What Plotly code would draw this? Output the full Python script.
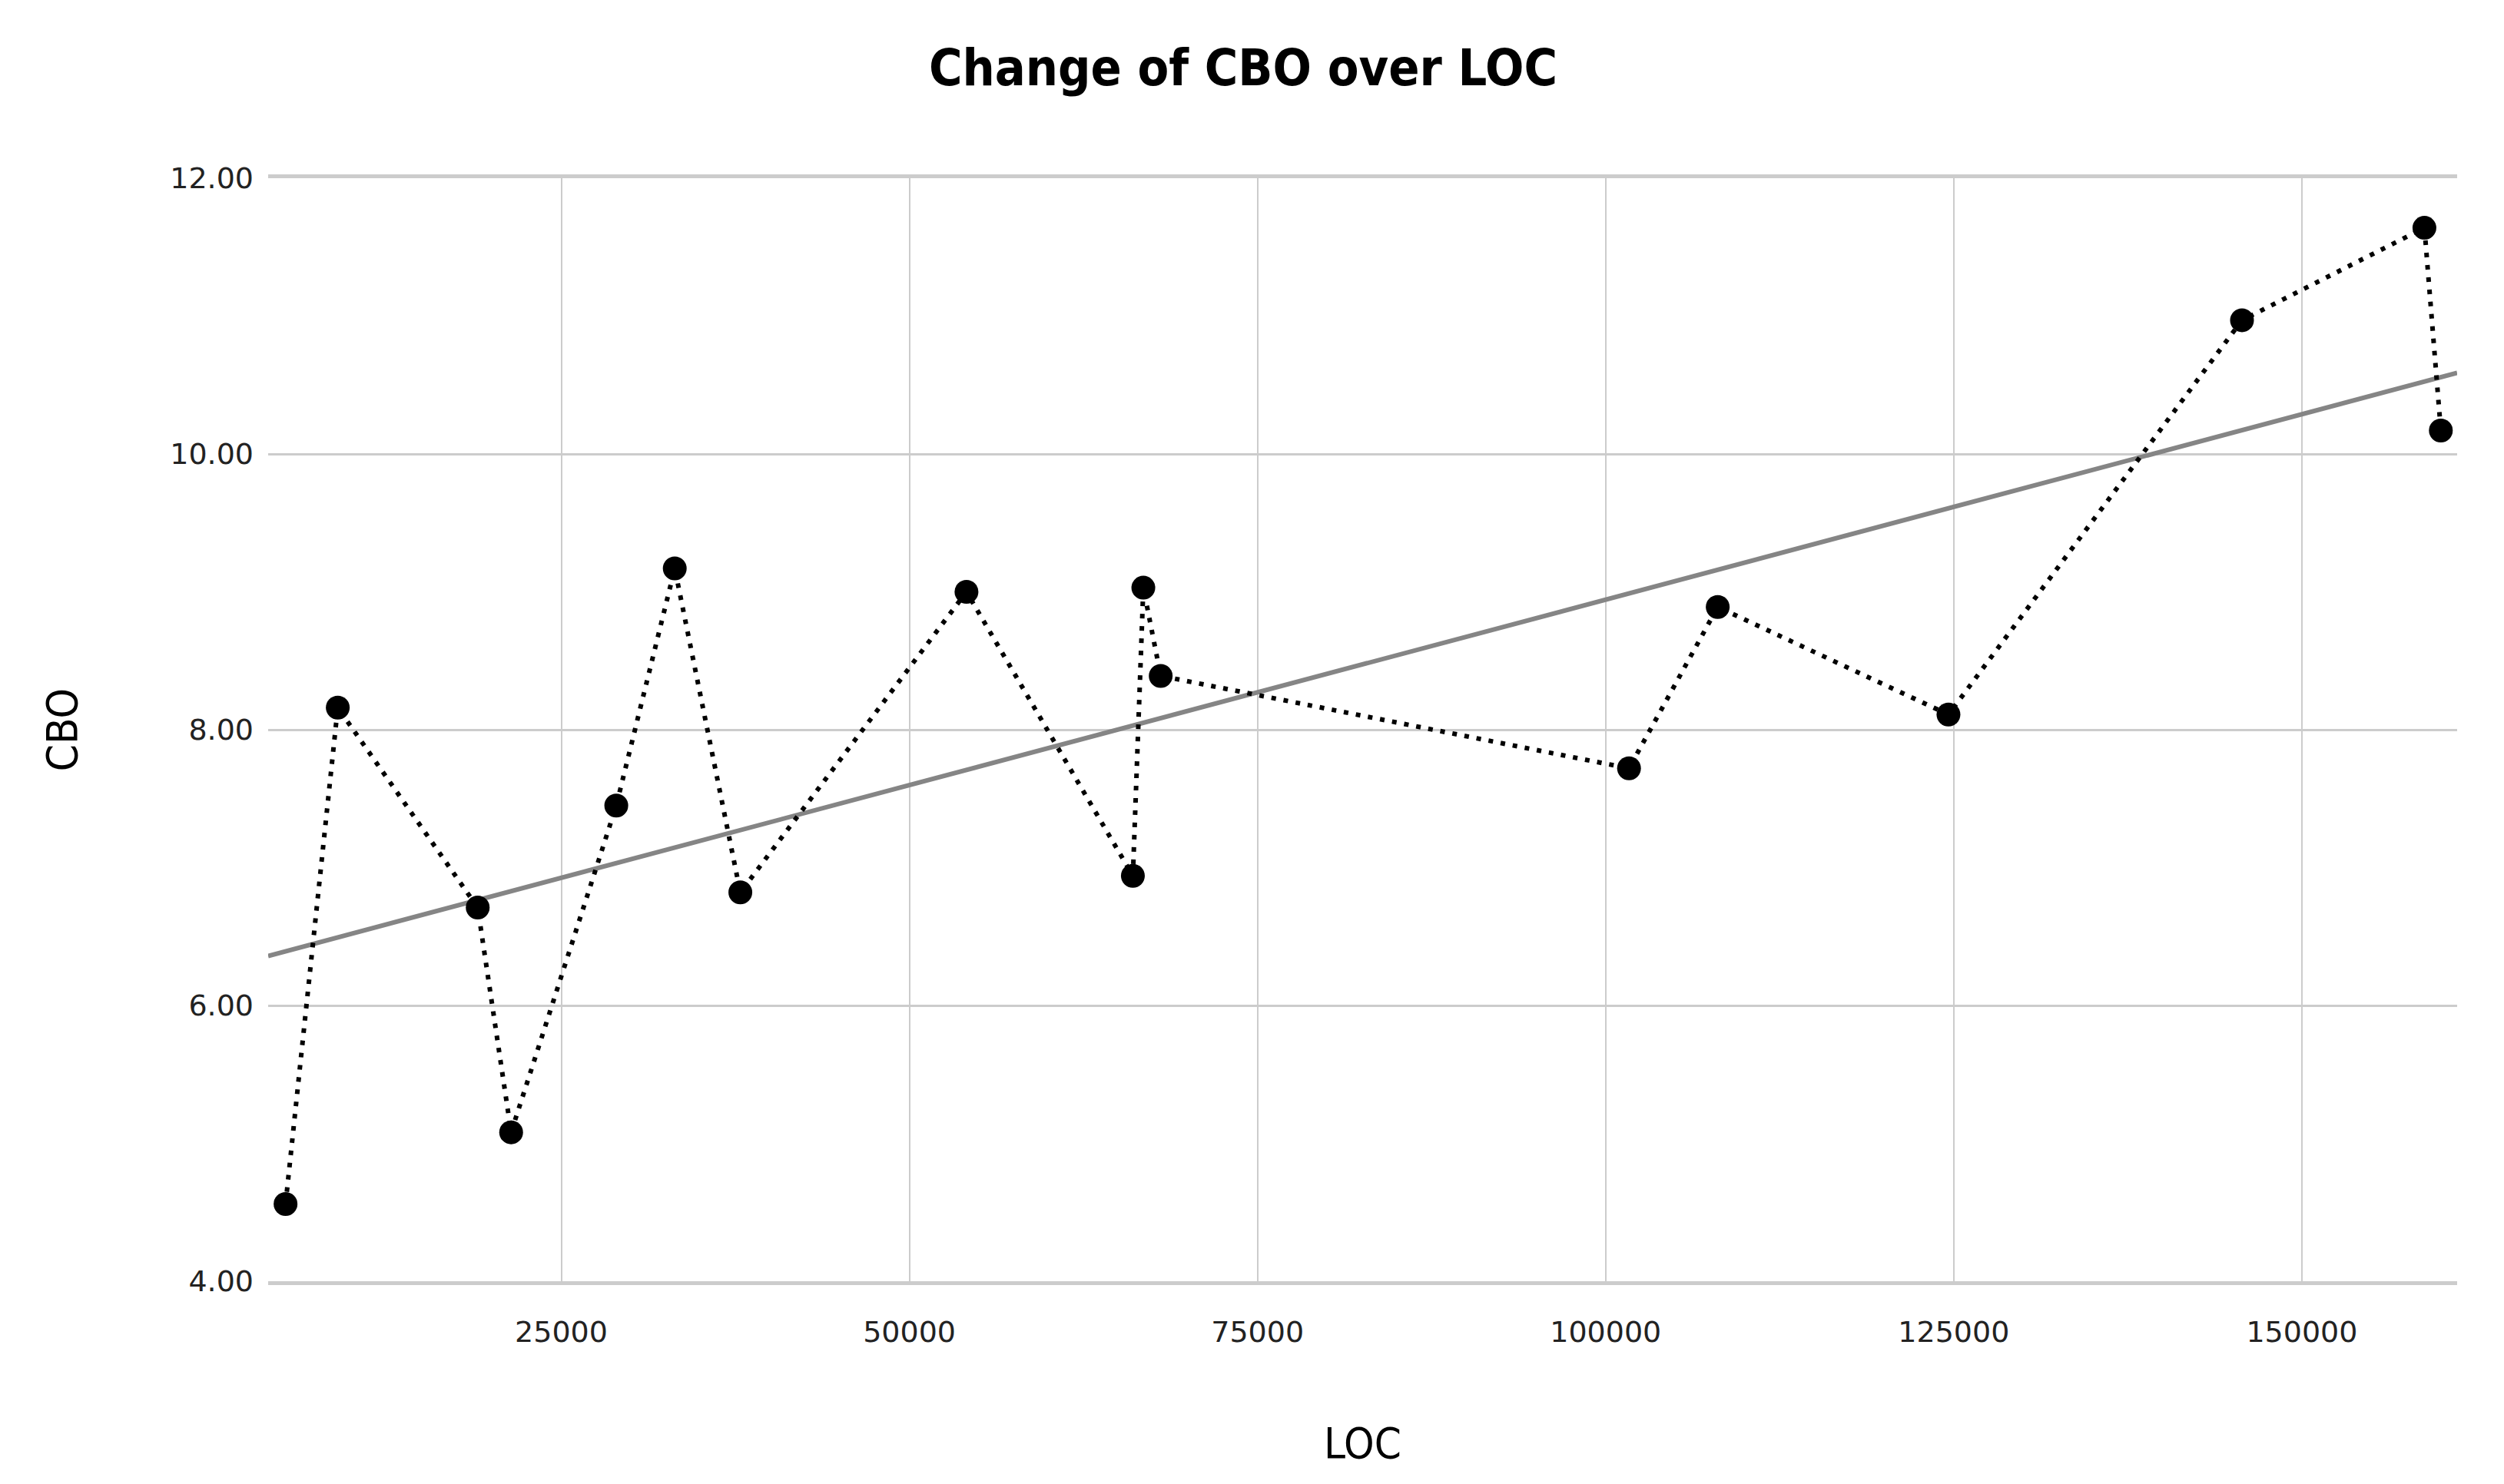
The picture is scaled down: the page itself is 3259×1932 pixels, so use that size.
import numpy as np
import plotly.graph_objects as go

# Data
loc = [5200, 8950, 19000, 21400, 28950, 33150, 37860, 54100, 66050, 66800,
       68050, 101680, 108050, 124620, 145700, 158800, 159980]
cbo = [4.56, 8.16, 6.71, 5.08, 7.45, 9.17, 6.82, 9.00, 6.94, 9.03,
       8.39, 7.72, 8.89, 8.11, 10.97, 11.64, 10.17]
x_ticks = [25000, 50000, 75000, 100000, 125000, 150000]
y_ticks = [4, 6, 8, 10, 12]

x_range = [3950, 161150]
y_range = [4, 12]

# Linear fit line (least squares)
slope, intercept = np.polyfit(loc, cbo, 1)
fit_x = list(x_range)
fit_y = [slope * v + intercept for v in fit_x]

FONT = "DejaVu Sans"
COND = "DejaVu Sans Condensed, DejaVu Sans"
GRID = "#cccccc"

fig = go.Figure()
fig.add_trace(go.Scatter(
    x=fit_x, y=fit_y, mode="lines",
    line=dict(color="#858585", width=6),
    showlegend=False, hoverinfo="skip",
))
fig.add_trace(go.Scatter(
    x=loc, y=cbo, mode="lines+markers",
    line=dict(color="black", width=6, dash="6px,10px"),
    marker=dict(color="black", size=31),
    showlegend=False,
))

fig.update_layout(
    width=3259, height=1932,
    paper_bgcolor="white", plot_bgcolor="white",
    margin=dict(l=341, r=69, t=224, b=272),
    title=dict(
        text="<b>Change of CBO over LOC</b>",
        font=dict(family=COND, size=66, color="black"),
        x=0.494, xanchor="center", xref="container",
        y=1 - 80 / 1932, yanchor="middle", yref="container",
    ),
    font=dict(family=FONT, color="#222222"),
)
fig.update_xaxes(
    range=x_range, tickvals=x_ticks, tickformat="d",
    showgrid=True, gridcolor=GRID, gridwidth=2,
    zeroline=False, showline=True, mirror=True,
    linecolor=GRID, linewidth=5,
    ticks="", ticklabelstandoff=28,
    tickfont=dict(family=FONT, size=38, color="#222222"),
    title=dict(text="LOC", font=dict(family=COND, size=56, color="black"), standoff=106),
)
fig.update_yaxes(
    range=y_range, tickvals=y_ticks, tickformat=".2f",
    showgrid=True, gridcolor=GRID, gridwidth=3,
    zeroline=False, showline=False,
    ticks="", ticklabelstandoff=18,
    tickfont=dict(family=FONT, size=38, color="#222222"),
    title=dict(text="CBO", font=dict(family=COND, size=56, color="black"), standoff=102),
)

fig.write_html("out.html")
